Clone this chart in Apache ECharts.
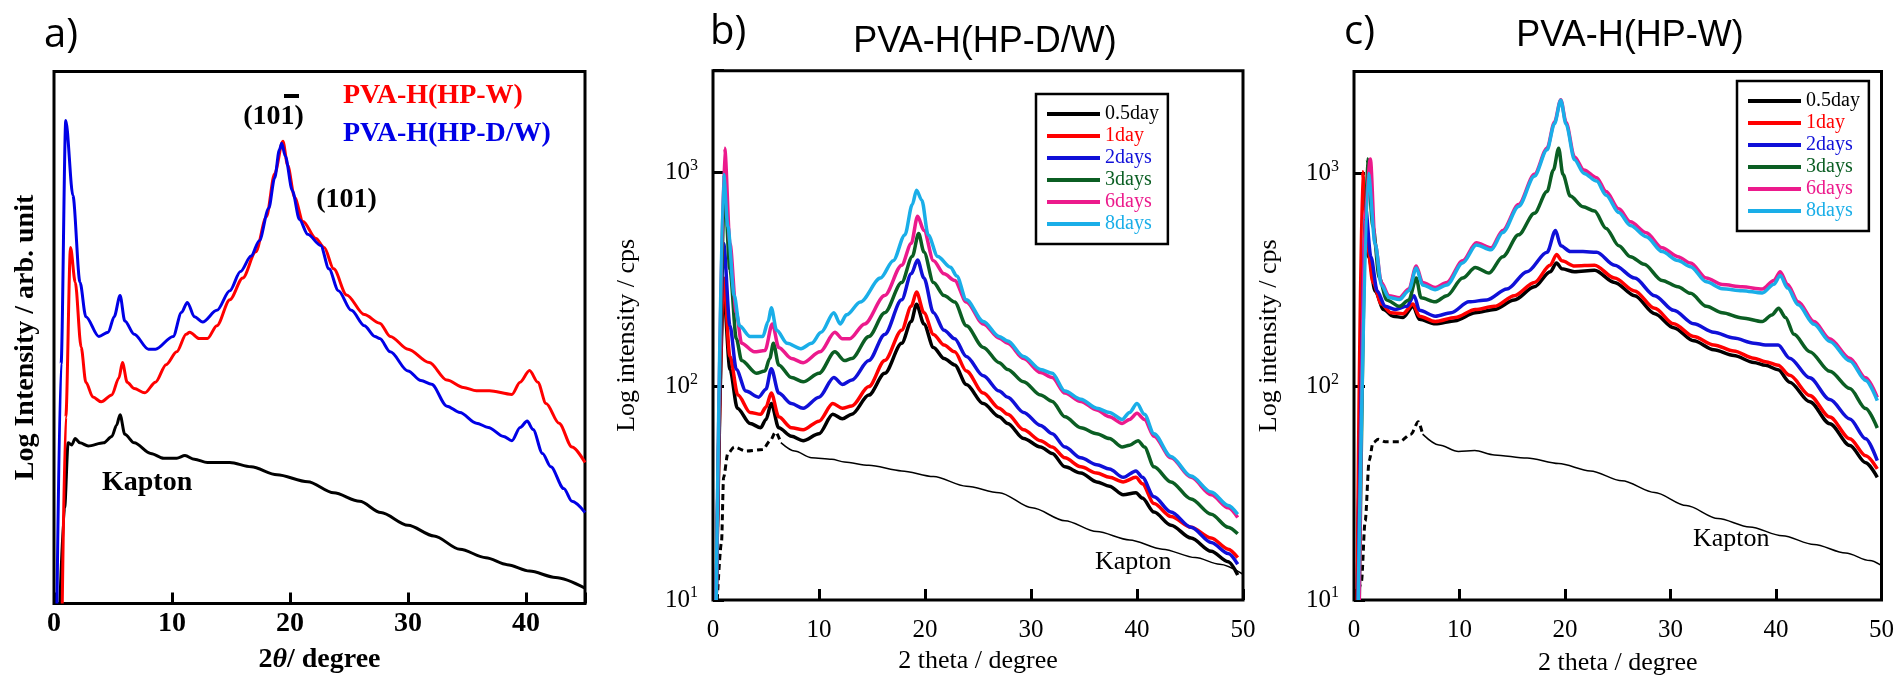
<!DOCTYPE html>
<html><head><meta charset="utf-8">
<script src="https://cdn.jsdelivr.net/npm/echarts@6/dist/echarts.min.js"></script>
<style>html,body{margin:0;padding:0;background:#fff}#c{width:1897px;height:681px}</style>
</head><body><div id="c"></div>
<script>
// ---------- DATA ----------
// Panel a (linear arbitrary units of log intensity, 0-100)
const a_hpdw = [[0.25,0],[0.6,45],[1.0,90.8],[1.6,76.7],[2.2,60.4],[2.7,53.9],[3.8,50.2],[4.6,51.0],[5.1,53.9],[5.6,57.9],[6.0,53.1],[6.8,50.6],[8.0,47.8],[8.6,47.8],[10.1,50.2],[10.8,54.7],[11.3,56.6],[11.9,53.9],[12.6,52.9],[13.8,55.1],[14.9,58.8],[15.8,62.4],[16.7,65.3],[17.4,68.2],[18.2,74.3],[18.7,80.0],[19.1,85.3],[19.3,86.5],[19.6,84.1],[20.2,77.6],[20.8,72.2],[21.5,69.4],[22.6,67.3],[23.3,62.9],[24.1,58.8],[25.2,55.1],[26.3,52.2],[27.2,50.2],[27.6,49.8],[28.5,47.3],[30.0,43.7],[31.1,41.9],[32.0,41.2],[33.3,37.1],[34.4,35.9],[35.8,33.9],[36.8,33.1],[38.1,31.4],[38.8,30.6],[39.5,33.1],[40.1,34.3],[40.6,32.7],[41.4,28.2],[42.1,25.7],[43.2,21.6],[43.9,19.2],[45,17.1]];
const a_hpw = [[0.7,0],[1.0,35],[1.4,66.9],[1.8,60.4],[2.3,48.2],[2.7,41.6],[3.3,38.8],[4.0,37.9],[4.9,39.2],[5.5,42.4],[5.8,45.3],[6.2,41.6],[6.8,40.4],[7.7,39.6],[8.6,41.6],[9.5,44.9],[10.4,47.3],[11.2,50.6],[11.5,51.0],[12.3,49.8],[13.0,49.8],[13.8,52.2],[14.9,57.1],[16.0,61.2],[17.1,66.1],[18.0,72.7],[18.7,80.8],[19.4,86.9],[19.8,82.4],[20.4,76.3],[21.1,71.8],[22.2,68.6],[22.9,66.9],[23.7,62.9],[24.8,58.0],[26.3,54.3],[27.6,52.7],[28.5,50.2],[30.0,47.8],[31.8,45.3],[33.3,42.0],[34.7,40.6],[35.8,40.0],[36.9,40.0],[38.8,39.3],[39.5,41.6],[40.3,43.8],[41.0,41.6],[41.7,37.6],[42.8,33.9],[43.9,29.4],[45,26.5]];
const a_kapton = [[0.5,0],[0.9,18],[1.2,30.2],[1.5,29.8],[1.8,31.0],[2.2,30.2],[2.9,29.6],[4.2,30.2],[4.9,31.4],[5.3,33.5],[5.6,35.5],[6.0,31.8],[6.8,30.2],[8.2,28.2],[9.3,27.3],[10.4,27.3],[11.1,27.8],[11.9,27.1],[13.0,26.5],[14.9,26.5],[16.7,25.7],[18.9,24.2],[21.5,22.9],[23.7,20.8],[25.9,19.2],[27.7,17.1],[30.0,14.7],[32.2,12.7],[34.4,10.2],[36.6,8.6],[38.4,7.3],[40.3,6.1],[42.5,4.9],[45,2.9]];

// Panel b: PVA-H(HP-D/W), cps
const b_d05 = [[0.3,10],[1.0,278],[1.6,120],[2.3,79],[3.5,67],[4.5,64],[5.0,70],[5.5,83],[6.2,64],[7.4,58.4],[8.5,55.7],[10.0,60],[11.3,74],[12.2,70.5],[13.1,74],[14.7,91],[16.2,115],[17.8,159],[18.7,201],[19.2,242],[19.9,196],[20.8,152],[21.8,135],[22.8,126],[23.9,102],[25.5,83],[27.0,72],[27.8,67],[29.3,57],[30.9,52],[32.0,48.5],[33.2,42],[34.7,39.3],[36.2,35.7],[37.4,34.1],[38.7,31.1],[39.9,31.8],[40.5,30],[41.6,25.8],[43.2,22.4],[45.1,19.5],[47.0,16.9],[48.6,15.1],[49.5,13.1]];
const b_d1 = [[0.3,10],[1.0,321],[1.6,138],[2.35,91],[3.5,75.5],[4.5,74],[5.0,80],[5.5,93],[6.2,72],[7.4,64],[8.5,62.6],[10.0,68.7],[11.3,83],[12.2,79],[13.1,81],[14.7,99.7],[16.2,132],[17.8,183],[18.7,237],[19.2,276],[19.9,221],[20.8,175],[21.8,156],[22.8,145],[23.9,118],[25.5,93],[27.0,79],[27.8,74],[29.3,62.6],[30.9,55.7],[32.0,52],[33.2,46.3],[34.7,42],[36.2,39.3],[37.4,37.5],[38.7,35.7],[39.9,37.5],[40.5,35],[41.6,28.3],[43.2,24.6],[45.1,21.9],[47.0,19.5],[48.6,17.3],[49.5,15.8]];
const b_d2 = [[0.3,10],[1.0,466],[1.6,192],[2.2,120],[3.1,95],[4.3,89],[5.0,97],[5.5,121],[6.2,93],[7.4,83],[8.5,79],[10.0,89],[11.4,110],[12.2,102],[13.1,107],[14.7,132],[16.2,175],[17.8,254],[18.7,336],[19.3,390],[19.9,321],[20.8,221],[21.8,183],[22.8,167],[23.9,138],[25.5,112],[27.0,95],[27.8,89],[29.3,75.5],[30.9,65.6],[32.0,60],[33.2,52],[34.7,46.3],[36.2,43],[37.4,41],[38.7,37.5],[39.9,40.2],[40.5,37.5],[41.6,30.4],[43.2,25.8],[45.1,21.9],[47.0,18.6],[48.6,16.5],[49.5,14.7]];
const b_d3 = [[0.3,10],[1.1,816],[1.6,352],[2.2,167],[2.7,132],[4.1,115],[4.9,118],[5.35,135],[5.7,159],[6.2,126],[7.4,110],[8.5,105],[10.0,115],[11.5,145],[12.4,132],[13.1,135],[14.7,171],[16.2,221],[17.8,306],[18.8,405],[19.4,519],[19.9,425],[20.8,306],[21.8,266],[22.8,248],[23.9,192],[25.5,152],[27.0,129],[27.8,120],[29.3,105],[30.9,91],[32.0,85],[33.2,72],[34.7,64],[36.2,60],[37.4,57],[38.6,52],[39.3,53],[40.1,55.7],[40.7,52],[41.6,42],[43.2,35.7],[45.1,29.7],[47.0,25.2],[48.6,21.9],[49.5,20.4]];
const b_d6 = [[0.3,10],[1.1,1300],[1.6,466],[2.2,221],[2.7,159],[3.9,145],[4.9,147],[5.6,196],[6.2,152],[7.4,135],[8.5,129],[10.1,145],[11.5,179],[12.2,167],[12.9,167],[14.3,196],[16.2,266],[17.8,369],[18.7,466],[19.3,625],[19.9,536],[20.8,387],[21.8,336],[22.8,313],[23.9,248],[25.5,196],[27.0,168],[27.8,159],[29.3,135],[30.9,116],[32.0,110],[33.2,93],[34.7,85],[36.2,77.5],[37.4,72],[38.6,67],[39.3,70],[40.0,74.8],[40.7,70],[41.6,58.4],[43.2,46.3],[45.1,37.5],[47.0,31.1],[48.6,27],[49.5,24.3]];
const b_d8 = [[0.3,10],[1.0,980],[1.4,561],[2.0,266],[2.5,192],[3.5,171],[4.7,171],[5.2,201],[5.5,233],[6.0,183],[7.0,159],[8.3,150],[9.3,159],[10.2,179],[11.4,221],[12.0,196],[12.6,216],[13.9,248],[15.8,321],[17.0,387],[18.1,511],[18.8,709],[19.2,827],[19.7,743],[20.3,511],[21.2,405],[22.4,361],[23.0,328],[23.9,254],[25.5,201],[27.0,171],[27.8,163],[29.3,138],[30.9,120],[32.0,115],[33.2,95],[34.7,87],[36.2,79],[37.4,75.5],[38.6,70],[39.3,75.5],[40.0,83],[40.7,74],[41.6,60],[43.2,47],[45.1,38],[47.0,32],[48.6,27.7],[49.5,25.2]];
const b_kaptonDash = [[0.4,10],[0.8,18.6],[1.0,37.5],[1.4,48.5],[2.0,52],[3.1,49.8],[4.7,50.6],[5.4,55.7],[5.9,61],[6.4,54.5]];
const b_kapton = [[6.4,54.5],[7.7,49.8],[9.3,46.3],[11.2,45.6],[12.4,44.2],[14.7,42.7],[17.8,40.2],[20.8,37.8],[23.9,34.1],[27.0,31.8],[30.1,27],[33.2,23.5],[36.2,20.9],[39.3,19.1],[42.4,17.3],[45.5,15.8],[47.8,14.7],[50,13.2]];

// Panel c: PVA-H(HP-W), cps
const c_d05 = [[0.3,10],[1.0,480],[1.4,407],[2.0,281],[2.8,230],[3.7,214],[4.65,211],[5.6,238],[6.2,207],[7.7,197],[9.6,204],[11.5,222],[13.3,230],[15.2,255],[17.1,294],[18.6,346],[19.2,380],[19.7,357],[20.9,346],[22.8,351],[24.7,308],[26.6,267],[28.5,220],[30.3,189],[32.2,164],[34.1,149],[36.0,140],[37.9,130],[39.0,126],[40.2,120],[41.3,105],[43.2,85],[45.1,67],[47.0,53],[48.5,44],[49.6,37.6]];
const c_d1 = [[0.3,10],[0.8,1017],[1.25,469],[1.8,308],[2.6,244],[3.5,222],[4.65,220],[5.6,244],[6.2,214],[7.7,202],[9.6,211],[11.5,230],[13.3,238],[15.2,267],[17.1,308],[18.6,371],[19.2,417],[19.7,389],[20.9,368],[22.8,371],[24.7,323],[26.6,281],[28.5,233],[30.3,197],[32.2,172],[34.1,157],[36.0,147],[37.9,136],[39.0,131],[40.2,126],[41.3,113],[43.2,91],[45.1,72],[47.0,57],[48.5,47.5],[49.6,41.2]];
const c_d2 = [[0.4,10],[1.06,714],[1.6,407],[2.2,281],[2.95,238],[3.9,230],[5.0,238],[5.7,267],[6.2,228],[7.7,214],[9.2,222],[10.9,250],[12.6,255],[14.5,287],[16.4,346],[18.3,427],[19.1,540],[19.6,458],[20.5,430],[21.7,430],[23.0,427],[24.7,371],[26.6,323],[28.5,267],[30.3,228],[32.2,197],[34.1,180],[36.0,169],[37.9,160],[39.0,157],[40.2,157],[41.3,136],[43.2,110],[45.1,87],[47.0,70.6],[48.5,57],[49.6,45]];
const c_d3 = [[0.5,10],[1.25,1167],[1.8,565],[2.4,323],[3.1,255],[4.3,238],[5.2,255],[5.9,323],[6.35,261],[7.7,250],[8.8,267],[10.3,323],[11.5,362],[12.8,341],[14.1,407],[15.6,515],[17.1,650],[18.3,822],[18.9,1038],[19.4,1313],[19.8,990],[20.5,783],[21.7,698],[22.8,666],[23.9,552],[25.1,458],[26.2,407],[27.5,375],[29.2,315],[30.7,294],[31.9,274],[33.4,238],[34.9,222],[36.8,210],[38.7,202],[39.6,217],[40.25,233],[40.9,211],[41.7,176],[43.2,146],[45.1,118],[47.0,98],[48.5,79],[49.6,64]];
const c_d6 = [[0.5,10],[1.0,600],[1.55,1167],[2.0,469],[2.6,308],[3.3,267],[4.3,261],[5.2,287],[5.9,368],[6.5,308],[7.7,292],[8.8,308],[10.3,389],[11.6,473],[13.0,448],[14.1,540],[15.6,714],[17.1,990],[18.3,1313],[19.0,1738],[19.6,2215],[20.1,1738],[20.9,1194],[21.8,1038],[23.0,955],[23.9,822],[25.1,682],[26.2,593],[27.7,527],[29.2,448],[30.7,407],[31.9,380],[33.4,323],[34.9,301],[36.8,294],[38.7,287],[39.8,315],[40.4,346],[41.1,301],[42.1,250],[43.6,202],[45.1,168],[47.0,136],[48.5,110],[49.6,89]];
const c_d8 = [[0.4,10],[1.36,1000],[2.0,469],[2.6,300],[3.3,262],[4.3,256],[5.2,282],[5.9,360],[6.5,300],[7.7,285],[8.8,300],[10.3,380],[11.6,462],[13.0,438],[14.1,528],[15.6,700],[17.1,970],[18.3,1290],[19.0,1710],[19.6,2200],[20.1,1700],[20.9,1160],[21.8,1000],[23.0,920],[23.9,790],[25.1,655],[26.2,570],[27.7,505],[29.2,430],[30.7,390],[31.9,365],[33.4,310],[34.9,288],[36.8,282],[38.7,275],[39.8,302],[40.4,332],[41.1,290],[42.1,242],[43.6,196],[45.1,163],[47.0,132],[48.5,107],[49.6,86]];
const c_kaptonDash = [[0.3,10],[0.7,12.2],[1.06,23.5],[1.44,45],[1.8,54.6],[2.3,56.7],[2.95,55.2],[4.3,55.2],[5.4,59.9],[6.1,68.5],[6.5,59.9]];
const c_kapton = [[6.5,59.9],[8.05,53.3],[9.9,49.7],[11.45,50.2],[13.3,47.9],[16.4,46.3],[19.4,43.6],[22.4,40.3],[25.4,36.2],[28.5,31.9],[31.5,27.7],[34.5,24.1],[37.5,22.0],[40.6,20],[43.6,18.2],[46.6,16.6],[48.9,15.3],[49.9,14.6]];

const dayNames = ['0.5day','1day','2days','3days','6days','8days'];
const dayColors = ['#000000','#ff0000','#1010d8','#0b5e23','#ec1a8c','#1aaee8'];

// ---------- CHART ----------
const SERIF = '"Liberation Serif","Times New Roman",serif';
const SANS = '"Liberation Sans",Arial,sans-serif';
const chart = echarts.init(document.getElementById('c'), null, {renderer:'canvas'});

function logFmt(v){
  const l = Math.log10(v), e = Math.round(l);
  if (Math.abs(l - e) > 1e-6) return '';
  return '{m|10}{s|' + e + '}';
}
const logRich = {
  m:{fontFamily:SERIF,fontSize:25,color:'#000'},
  s:{fontFamily:SERIF,fontSize:16,color:'#000',padding:[0,0,14,0]}
};

const grids = [
  {left:54, right:1312, top:71.5, bottom:77.5},
  {left:713, right:654, top:70.7, bottom:81},
  {left:1354, right:15, top:71.6, bottom:80}
].map(g => Object.assign({show:true, borderColor:'#000', borderWidth:3, backgroundColor:'transparent'}, g));

const tickIn = {show:true, inside:true, length:11, lineStyle:{color:'#000', width:3}};
const xAxes = [
  {gridIndex:0, type:'value', min:0, max:45, interval:10,
   axisLine:{show:false}, axisTick:tickIn, splitLine:{show:false},
   axisLabel:{margin:6, fontFamily:SERIF, fontWeight:'bold', fontSize:28, color:'#000',
     formatter:v => (v % 10 === 0 ? String(v) : '')},
   name:'{n|2}{i|θ}{n|/ degree}', nameLocation:'middle', nameGap:42,
   nameTextStyle:{rich:{n:{fontFamily:SERIF,fontWeight:'bold',fontSize:28,color:'#000'},
                        i:{fontFamily:SERIF,fontWeight:'bold',fontStyle:'italic',fontSize:28,color:'#000'}}}},
  {gridIndex:1, type:'value', min:0, max:50, interval:10,
   axisLine:{show:false}, axisTick:tickIn, splitLine:{show:false},
   axisLabel:{margin:18, fontFamily:SERIF, fontSize:25, color:'#000'},
   name:'2 theta / degree', nameLocation:'middle', nameGap:48,
   nameTextStyle:{fontFamily:SERIF, fontSize:26, color:'#000'}},
  {gridIndex:2, type:'value', min:0, max:50, interval:10,
   axisLine:{show:false}, axisTick:tickIn, splitLine:{show:false},
   axisLabel:{margin:18, fontFamily:SERIF, fontSize:25, color:'#000'},
   name:'2 theta / degree', nameLocation:'middle', nameGap:50,
   nameTextStyle:{fontFamily:SERIF, fontSize:26, color:'#000'}}
];
const yAxes = [
  {gridIndex:0, type:'value', min:0, max:100,
   axisLine:{show:false}, axisTick:{show:false}, axisLabel:{show:false}, splitLine:{show:false},
   name:'Log Intensity / arb. unit', nameLocation:'middle', nameGap:14,
   nameTextStyle:{fontFamily:SERIF, fontWeight:'bold', fontSize:28, color:'#000'}},
  {gridIndex:1, type:'log', logBase:10, min:10, max:3000,
   axisLine:{show:false}, axisTick:tickIn, splitLine:{show:false}, minorTick:{show:false},
   axisLabel:{margin:15, formatter:logFmt, rich:logRich},
   name:'Log intensity / cps', nameLocation:'middle', nameGap:73,
   nameTextStyle:{fontFamily:SERIF, fontSize:26, color:'#000'}},
  {gridIndex:2, type:'log', logBase:10, min:10, max:3000,
   axisLine:{show:false}, axisTick:tickIn, splitLine:{show:false}, minorTick:{show:false},
   axisLabel:{margin:15, formatter:logFmt, rich:logRich},
   name:'Log intensity / cps', nameLocation:'middle', nameGap:72,
   nameTextStyle:{fontFamily:SERIF, fontSize:26, color:'#000'}}
];

function line(name, data, idx, color, width, extra){
  return Object.assign({type:'line', name, data, xAxisIndex:idx, yAxisIndex:idx,
    showSymbol:false, symbol:'none', smooth:0.3, smoothMonotone:'x', animation:false,
    lineStyle:{color, width}, itemStyle:{color}, emphasis:{disabled:true}}, extra||{});
}

const series = [
  line('Kapton (a)', a_kapton, 0, '#000', 3),
  line('PVA-H(HP-W)', a_hpw, 0, '#ff0000', 3),
  line('PVA-H(HP-D/W)', a_hpdw, 0, '#0000e6', 3),
];
const bData = [b_d05,b_d1,b_d2,b_d3,b_d6,b_d8];
const cData = [c_d05,c_d1,c_d2,c_d3,c_d6,c_d8];
series.push(line('Kapton dash (b)', b_kaptonDash, 1, '#000', 3, {lineStyle:{color:'#000',width:3,type:[6,4]}}));
series.push(line('Kapton (b)', b_kapton, 1, '#000', 1.5));
bData.forEach((d,i) => series.push(line(dayNames[i], d, 1, dayColors[i], 3.5)));
series.push(line('Kapton dash (c)', c_kaptonDash, 2, '#000', 3, {lineStyle:{color:'#000',width:3,type:[6,4]}}));
series.push(line('Kapton (c)', c_kapton, 2, '#000', 1.5));
cData.forEach((d,i) => series.push(line(dayNames[i], d, 2, dayColors[i], 3.5)));

const legendData = dayNames.map((n,i) => ({name:n, textStyle:{color:dayColors[i]}}));
const legendBase = {orient:'vertical', data:legendData, icon:'rect', itemWidth:53, itemHeight:4,
  itemGap:2, itemTextGap:4, padding:[10,9,10,11], borderColor:'#000', borderWidth:2.5,
  backgroundColor:'#fff', selectedMode:false,
  textStyle:{fontFamily:SERIF, fontSize:20, lineHeight:20}};

function txt(x, y, text, font, color, align){
  return {type:'text', x, y, silent:true, z:100,
    style:{text, font, fill:color||'#000', align:align||'left', verticalAlign:'middle'}};
}
const graphics = [
  txt(44, 36, 'a)', '40px "Open Sans",sans-serif'),
  txt(710, 33, 'b)', '40px "Open Sans",sans-serif'),
  txt(1344, 33, 'c)', '40px "Open Sans",sans-serif'),
  txt(985, 42, 'PVA-H(HP-D/W)', '36px ' + SANS, '#000', 'center'),
  txt(1630, 36, 'PVA-H(HP-W)', '36px ' + SANS, '#000', 'center'),
  txt(273.5, 117, '(101)', 'bold 28px ' + SERIF, '#000', 'center'),
  {type:'rect', silent:true, z:100, shape:{x:284, y:94, width:15, height:4}, style:{fill:'#000'}},
  txt(346.5, 200, '(101)', 'bold 28px ' + SERIF, '#000', 'center'),
  txt(343, 96, 'PVA-H(HP-W)', 'bold 28px ' + SERIF, '#ff0000'),
  txt(343, 134, 'PVA-H(HP-D/W)', 'bold 28px ' + SERIF, '#0000e6'),
  txt(102, 483, 'Kapton', 'bold 28px ' + SERIF),
  txt(1095, 562, 'Kapton', '26px ' + SERIF),
  txt(1693, 539, 'Kapton', '26px ' + SERIF)
];

chart.setOption({
  animation:false,
  backgroundColor:'#fff',
  grid:grids,
  xAxis:xAxes,
  yAxis:yAxes,
  legend:[Object.assign({left:1036, top:94}, legendBase), Object.assign({left:1737, top:81}, legendBase)],
  series,
  graphic:graphics
});
</script></body></html>
